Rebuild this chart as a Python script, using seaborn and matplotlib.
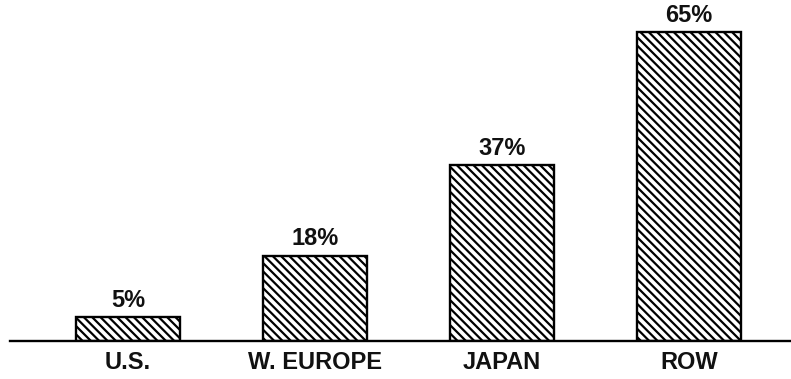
import matplotlib
matplotlib.use("Agg")
import matplotlib.pyplot as plt
import seaborn as sns
import pandas as pd

regions = ["U.S.", "W. EUROPE", "JAPAN", "ROW"]
shares = [5, 18, 37, 65]

sns.set_theme(style="white")
plt.rcParams["font.family"] = ["Liberation Sans", "DejaVu Sans"]
plt.rcParams["hatch.linewidth"] = 1.6
plt.rcParams["hatch.color"] = "black"

df = pd.DataFrame({"region": regions, "share": shares})

W, H = 791, 379
fig = plt.figure(figsize=(W / 100, H / 100), dpi=100)
base_px = 341
ax = fig.add_axes([10 / W, (H - base_px) / H, 780 / W, base_px / H])

sns.barplot(data=df, x="region", y="share", color="white", edgecolor="black",
            linewidth=1.7, width=0.556, saturation=1, ax=ax)
for p in ax.patches:
    p.set_hatch("\\\\\\\\")
    p.set_facecolor("white")

ax.bar_label(ax.containers[0], labels=[f"{v}%" for v in shares], padding=4,
             fontsize=17, fontweight="bold", color="#111111")

ax.set_xlim(-0.631, 3.540)
ax.set_ylim(0, base_px / 4.75)
ax.set_xlabel("")
ax.set_ylabel("")
ax.set_yticks([])
ax.tick_params(axis="x", length=0, pad=7)
for lbl in ax.get_xticklabels():
    lbl.set_fontsize(17)
    lbl.set_fontweight("bold")
    lbl.set_color("#111111")
for s in ["top", "left", "right"]:
    ax.spines[s].set_visible(False)
ax.spines["bottom"].set_color("black")
ax.spines["bottom"].set_linewidth(1.7)
ax.patch.set_alpha(0)

fig.savefig("out.png", dpi=100, facecolor="white")
